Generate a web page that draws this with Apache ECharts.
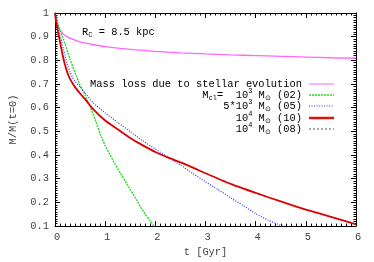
<!DOCTYPE html>
<html><head><meta charset="utf-8">
<script src="https://cdn.jsdelivr.net/npm/echarts@6/dist/echarts.min.js"></script>
<style>html,body{margin:0;padding:0;background:#fff}#c{width:374px;height:262px}</style>
</head><body><div id="c"></div>
<script>
// t [Gyr] and M/M(t=0) values
const tPink = [0,0.02,0.05,0.1,0.2,0.3,0.5,0.75,1.0,1.5,2,2.5,3,3.5,4,4.5,5,5.5,6];
const mPink = [1.0,0.97,0.948,0.928,0.905,0.894,0.878,0.867,0.858,0.846,0.838,0.832,0.827,0.823,0.82,0.817,0.814,0.811,0.809];

const tGreen = [0,0.05,0.1,0.2,0.3,0.4,0.5,0.6,0.7,0.8,0.9,1.0,1.1,1.2,1.3,1.4,1.5,1.6,1.7,1.8,1.9,1.97];
const mGreen = [1.0,0.96,0.928,0.87,0.805,0.748,0.695,0.652,0.605,0.55,0.49,0.44,0.40,0.36,0.325,0.29,0.255,0.22,0.183,0.15,0.122,0.1];

const tBlue = [0,0.05,0.1,0.15,0.2,0.25,0.3,0.35,0.4,0.5,0.6,0.75,1.0,1.25,1.5,1.75,2,2.25,2.5,2.75,3,3.25,3.5,3.75,4,4.25,4.5,4.55];
const mBlue = [1.0,0.95,0.905,0.865,0.82,0.778,0.75,0.728,0.712,0.688,0.662,0.623,0.578,0.538,0.499,0.46,0.425,0.392,0.358,0.322,0.287,0.254,0.22,0.187,0.153,0.125,0.103,0.1];

const tRed = [0,0.02,0.05,0.1,0.15,0.2,0.25,0.3,0.35,0.4,0.5,0.6,0.75,1.0,1.25,1.5,1.75,2,2.25,2.5,2.75,3,3.5,4,4.5,5,5.5,6];
const mRed = [1.0,0.965,0.932,0.878,0.825,0.78,0.746,0.722,0.703,0.687,0.66,0.636,0.596,0.546,0.509,0.472,0.441,0.413,0.39,0.369,0.347,0.323,0.278,0.24,0.204,0.17,0.139,0.107];

const tGray = tRed.slice();
const mGray = mRed.slice();

const xTicks = [0,1,2,3,4,5,6];
const yTicks = [0.1,0.2,0.3,0.4,0.5,0.6,0.7,0.8,0.9,1];

const zip = (a,b) => a.map((v,i)=>[v,b[i]]);
const FONT = 'Liberation Mono';
const FS = 10.4;
const TC = '#444';

const rich = {
  n:{fontFamily:FONT,fontSize:FS,color:TC,lineHeight:14,verticalAlign:'middle'},
  sup:{fontFamily:FONT,fontSize:7,color:TC,lineHeight:14,verticalAlign:'top'},
  sub:{fontFamily:FONT,fontSize:7,color:TC,lineHeight:12,verticalAlign:'bottom'}
};

const legendRows = [
  {y:84, text:'{n|Mass loss due to stellar evolution}', color:'#ff66ff', type:'solid', w:1},
  {y:95, text:'{n|M}{sub|cl}{n|=  10}{sup|3}{n| M}{sub|⊙}{n| (02)}', color:'#22dd22', type:[2,1], w:1.6},
  {y:106, text:'{n|5*10}{sup|3}{n| M}{sub|⊙}{n| (05)}', color:'#3333ff', type:[1,1.5], w:1.2},
  {y:118, text:'{n|10}{sup|4}{n| M}{sub|⊙}{n| (10)}', color:'#e01010', type:'solid', w:2.5},
  {y:129, text:'{n|10}{sup|4}{n| M}{sub|⊙}{n| (08)}', color:'#555', type:[2,2], w:1}
];
const graphics = [];
legendRows.forEach(r=>{
  graphics.push({type:'text', x:302, y:r.y, style:{text:r.text, rich:rich, textAlign:'right', textVerticalAlign:'middle'}});
  graphics.push({type:'line', shape:{x1:309,y1:r.y,x2:334,y2:r.y}, style:{stroke:r.color, lineWidth:r.w, lineDash: r.type==='solid'?null:r.type}});
});
graphics.push({type:'text', x:82, y:32, style:{text:'{n|R}{sub|C}{n| = 8.5 kpc}', rich:rich, textAlign:'left', textVerticalAlign:'middle'}});

const axisCommon = {
  axisLine:{show:true, onZero:false, lineStyle:{color:'#000', width:1}},
  axisTick:{show:true, inside:true, length:5, lineStyle:{color:'#000'}},
  minorTick:{show:true, splitNumber:10, length:2.5, lineStyle:{color:'#000'}},
  splitLine:{show:false}
};

const chart = echarts.init(document.getElementById('c'), null, {renderer:'canvas'});
chart.setOption({
  animation:false,
  backgroundColor:'#fff',
  grid:{left:53, right:18, top:13, bottom:32, containLabel:false},
  xAxis:[
    Object.assign({type:'value', min:xTicks[0], max:xTicks[xTicks.length-1], interval:1, position:'bottom',
      name:'t [Gyr]', nameLocation:'middle', nameGap:20,
      nameTextStyle:{fontFamily:FONT, fontSize:FS, color:TC},
      axisLabel:{fontFamily:FONT, fontSize:FS, color:TC, margin:6, padding:[0,0,0,4]}}, axisCommon),
    Object.assign({type:'value', min:xTicks[0], max:xTicks[xTicks.length-1], interval:1, position:'top',
      axisLabel:{show:false}}, axisCommon)
  ],
  yAxis:[
    Object.assign({type:'value', min:yTicks[0], max:yTicks[yTicks.length-1], interval:0.1, position:'left',
      name:'M/M(t=0)', nameLocation:'middle', nameGap:37,
      nameTextStyle:{fontFamily:FONT, fontSize:FS, color:TC},
      axisLabel:{fontFamily:FONT, fontSize:FS, color:TC, margin:6,
        formatter:v=> Math.abs(v-1)<1e-9 ? '1' : v.toFixed(1)}}, axisCommon),
    Object.assign({type:'value', min:yTicks[0], max:yTicks[yTicks.length-1], interval:0.1, position:'right',
      axisLabel:{show:false}}, axisCommon)
  ],
  graphic:graphics,
  series:[
    {name:'Mass loss due to stellar evolution', type:'line', data:zip(tPink,mPink), showSymbol:false, smooth:0.2,
      lineStyle:{color:'#ff66ff', width:1.3}, z:3},
    {name:'(02)', type:'line', data:zip(tGreen,mGreen), showSymbol:false, smooth:0.2,
      lineStyle:{color:'#22dd22', width:1.4, type:[2,1]}, z:3},
    {name:'(05)', type:'line', data:zip(tBlue,mBlue), showSymbol:false, smooth:0.2,
      lineStyle:{color:'#3333ff', width:1.2, type:[1,1.5]}, z:3},
    {name:'(08)', type:'line', data:zip(tGray,mGray), showSymbol:false, smooth:0.2,
      lineStyle:{color:'#dd0000', width:1, type:[2,2], opacity:0}, z:2},
    {name:'(10)', type:'line', data:zip(tRed,mRed), showSymbol:false, smooth:0.2,
      lineStyle:{color:'#dd0000', width:1.8}, z:4}
  ]
});
</script></body></html>
